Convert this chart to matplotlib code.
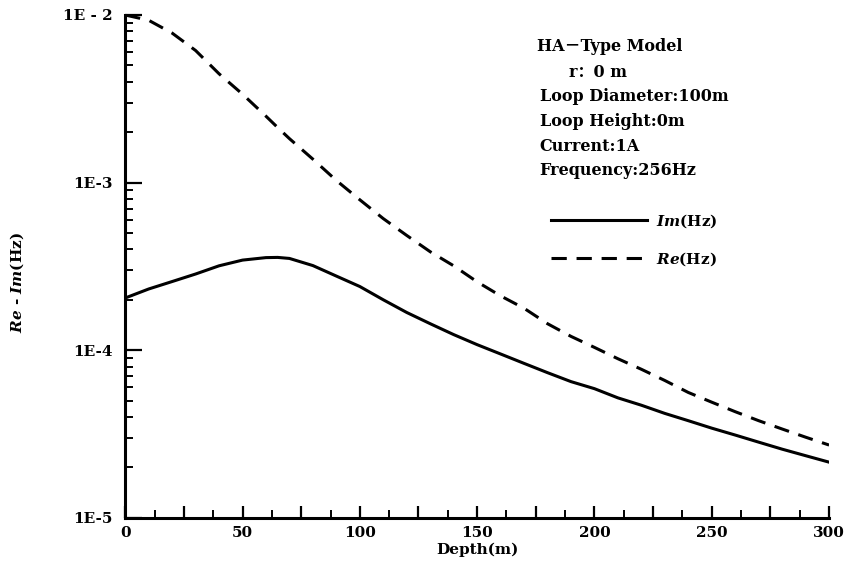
import matplotlib
matplotlib.use("Agg")
import matplotlib.pyplot as plt
from matplotlib.ticker import FixedLocator, LogLocator, NullFormatter, FixedFormatter

plt.rcParams['font.family'] = ['DejaVu Serif', 'Noto Sans CJK SC']
plt.rcParams['font.weight'] = 'bold'
plt.rcParams['mathtext.fontset'] = 'custom'
plt.rcParams['mathtext.it'] = 'DejaVu Serif:italic:bold'
plt.rcParams['mathtext.rm'] = 'DejaVu Serif:bold'

depth = [0, 10, 20, 30, 40, 50, 60, 65, 70, 80, 90, 100, 110, 120, 130, 140, 150,
         160, 170, 180, 190, 200, 210, 220, 230, 240, 250, 260, 270, 280, 290, 300]
im_vals = [2.05e-4, 2.32e-4, 2.57e-4, 2.85e-4, 3.19e-4, 3.45e-4, 3.57e-4, 3.58e-4,
           3.53e-4, 3.20e-4, 2.77e-4, 2.40e-4, 2.00e-4, 1.68e-4, 1.44e-4, 1.24e-4,
           1.08e-4, 9.5e-5, 8.35e-5, 7.35e-5, 6.5e-5, 5.9e-5, 5.2e-5, 4.7e-5, 4.2e-5,
           3.8e-5, 3.43e-5, 3.12e-5, 2.83e-5, 2.57e-5, 2.35e-5, 2.15e-5]
re_vals = [1.0e-2, 9.3e-3, 7.8e-3, 6.14e-3, 4.46e-3, 3.37e-3, 2.49e-3, 2.13e-3,
           1.83e-3, 1.38e-3, 1.03e-3, 7.9e-4, 6.1e-4, 4.84e-4, 3.87e-4, 3.19e-4,
           2.56e-4, 2.11e-4, 1.78e-4, 1.44e-4, 1.21e-4, 1.04e-4, 8.9e-5, 7.7e-5,
           6.6e-5, 5.6e-5, 4.9e-5, 4.3e-5, 3.8e-5, 3.39e-5, 3.03e-5, 2.72e-5]

x_ticks = [0, 50, 100, 150, 200, 250, 300]
y_ticks = [1e-5, 1e-4, 1e-3, 1e-2]
y_ticklabels = ['1E-5', '1E-4', '1E-3', '1E - 2']

info_lines = ['HA\uff0dType Model', 'r\uff1a0 m', 'Loop Diameter:100m',
              'Loop Height:0m', 'Current:1A', 'Frequency:256Hz']

fig = plt.figure(figsize=(8.46, 5.66), dpi=100)
ax = fig.add_axes([0.148, 0.085, 0.832, 0.8885])

ax.plot(depth, im_vals, color='black', lw=2.2, label=r'$Im$(Hz)')
ax.plot(depth, re_vals, color='black', lw=2.2, linestyle=(0, (5, 3.2)), label=r'$Re$(Hz)')

ax.set_yscale('log')
ax.set_xlim(0, 300)
ax.set_ylim(1e-5, 1e-2)

for s in ['top', 'right']:
    ax.spines[s].set_visible(False)
for s in ['left', 'bottom']:
    ax.spines[s].set_linewidth(2.2)

major_x = [25 * i for i in range(13)]
ax.xaxis.set_major_locator(FixedLocator(major_x))
ax.xaxis.set_major_formatter(FixedFormatter([str(v) if v in x_ticks else '' for v in major_x]))
ax.xaxis.set_minor_locator(FixedLocator([12.5 + 25 * i for i in range(12)]))
ax.yaxis.set_major_locator(FixedLocator(y_ticks))
ax.yaxis.set_major_formatter(FixedFormatter(y_ticklabels))
ax.yaxis.set_minor_locator(LogLocator(base=10, subs=range(2, 10)))
ax.yaxis.set_minor_formatter(NullFormatter())

ax.tick_params(axis='both', which='major', direction='in', length=9, width=1.6,
               labelsize=11, pad=6)
ax.tick_params(axis='both', which='minor', direction='in', length=6, width=1.4)
ax.tick_params(axis='y', which='major', length=12, pad=9)
for lab in ax.get_xticklabels() + ax.get_yticklabels():
    lab.set_fontweight('bold')

ax.set_xlabel('Depth(m)', fontsize=11, fontweight='bold', labelpad=2)
fig.text(0.02, 0.50, r'$Re$ - $Im$(Hz)', rotation=90, fontsize=11,
         fontweight='bold', ha='center', va='center')

ypos = [0.917, 0.872, 0.829, 0.786, 0.741, 0.698]
xpos = [0.635, 0.672, 0.638, 0.638, 0.638, 0.638]
for t, xx, yy in zip(info_lines, xpos, ypos):
    fig.text(xx, yy, t, fontsize=11.5, fontweight='bold', ha='left', va='center')

leg = ax.legend(loc='upper left', bbox_to_anchor=(0.585, 0.635), frameon=False,
                handlelength=6.3, handletextpad=0.6, labelspacing=1.3, fontsize=11)

fig.savefig('out.png', dpi=100)
